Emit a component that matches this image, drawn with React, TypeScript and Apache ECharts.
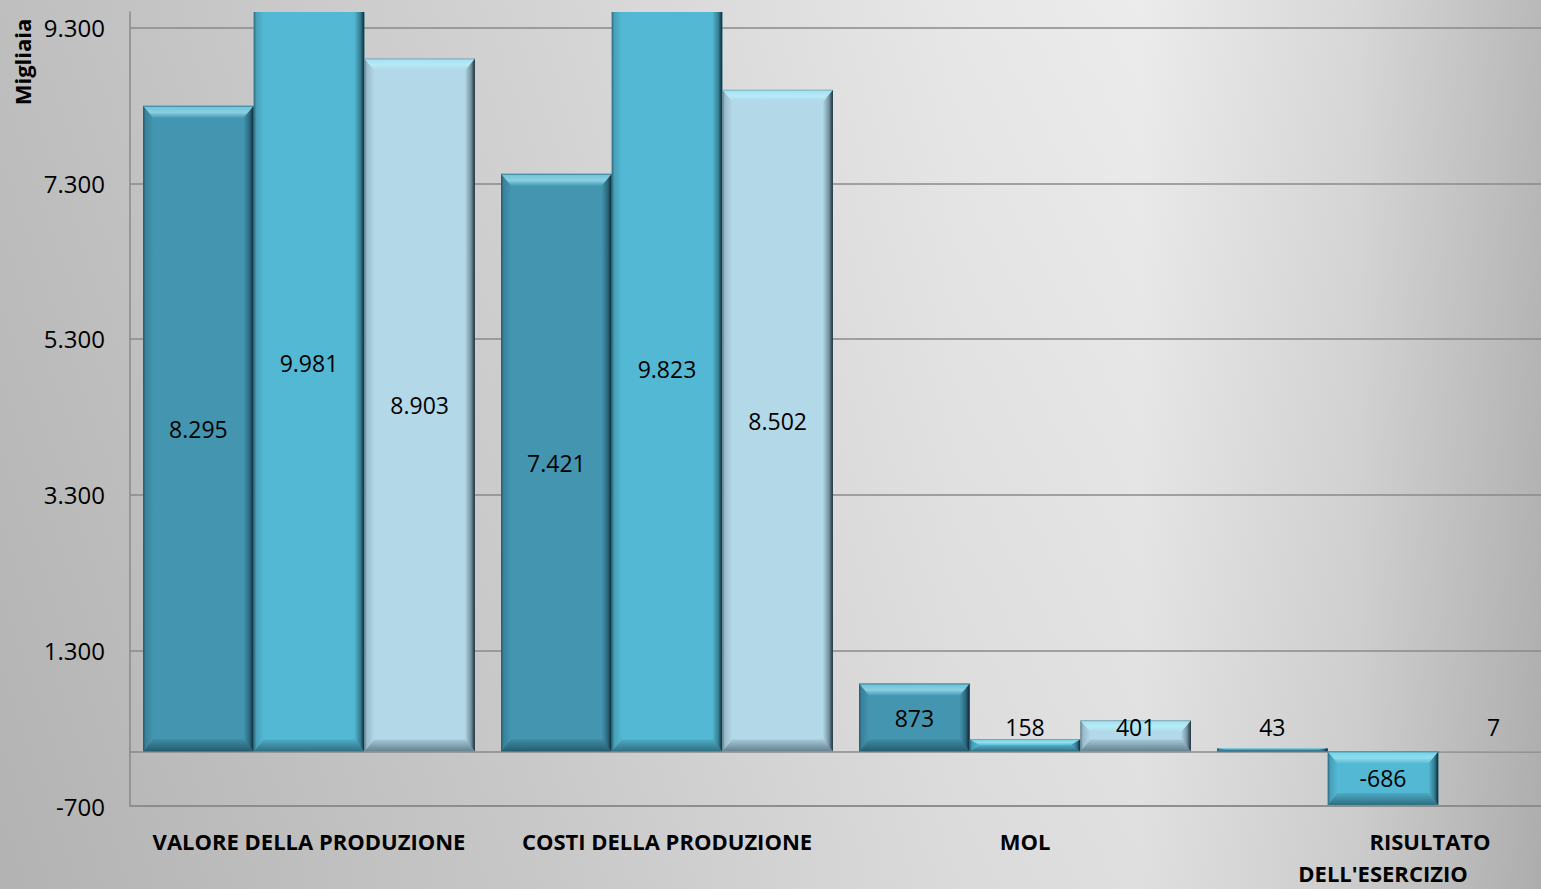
import React, { useEffect, useRef } from "react";
import * as echarts from "echarts";

const categories = [
  "VALORE DELLA PRODUZIONE",
  "COSTI DELLA PRODUZIONE",
  "MOL",
  "RISULTATO DELL'ESERCIZIO",
];
const seriesA = [8295, 7421, 873, 43];
const seriesB = [9981, 9823, 158, -686];
const seriesC = [8903, 8502, 401, 7];
const yTicks = [-700, 1300, 3300, 5300, 7300, 9300];
const yPlotTop = 9500;
const axisTitle = "Migliaia";

const seriesColors = ["#4395b0", "#53b8d3", "#b3d8e8"];
const FONT = '"Open Sans", "Noto Sans", sans-serif';
const GAP = 0.073;

function fmt(v: number): string {
  const s = String(Math.abs(Math.round(v))).replace(/\B(?=(\d{3})+(?!\d))/g, ".");
  return (v < 0 ? "-" : "") + s;
}

function lg(x1: number, y1: number, x2: number, y2: number, stops: [number, string][]) {
  return new echarts.graphic.LinearGradient(
    x1,
    y1,
    x2,
    y2,
    stops.map(([offset, color]) => ({ offset, color }))
  );
}

function makeRenderItem(si: number) {
  return (params: any, api: any) => {
    const ci = api.value(0);
    const v = api.value(1);
    const p0 = api.coord([ci, 0]);
    const cx = p0[0];
    const y0 = p0[1];
    const yv = api.coord([ci, v])[1];
    const band = api.size([1, 0])[0];
    const w = (band * (1 - GAP)) / 3;
    const x = cx - 1.5 * w + si * w;
    const gridTop = params.coordSys.y;
    const rawTop = Math.min(y0, yv);
    const clipped = rawTop < gridTop;
    const top = Math.max(rawTop, gridTop);
    const bottom = Math.max(y0, yv);
    const h = Math.max(bottom - top, 0.5);
    const bt = Math.min(12, h / 2);
    const bs = Math.min(10, w / 2);
    const tIn = clipped ? 0 : bt;
    const center = (y0 + yv) / 2;
    const ly = v >= 0 ? Math.min(center, y0 - 25) : center;
    const children: any[] = [
      {
        type: "rect",
        shape: { x, y: top, width: w, height: h },
        style: { fill: seriesColors[si] },
      },
      {
        type: "polygon",
        shape: {
          points: [
            [x, top],
            [x + bs, top + tIn],
            [x + bs, bottom - bt],
            [x, bottom],
          ],
        },
        style: {
          fill: lg(0, 0, 1, 0, [
            [0, "rgba(0,20,30,0.5)"],
            [0.25, "rgba(0,20,30,0.15)"],
            [1, "rgba(0,20,30,0)"],
          ]),
        },
      },
      {
        type: "polygon",
        shape: {
          points: [
            [x + w, top],
            [x + w, bottom],
            [x + w - bs, bottom - bt],
            [x + w - bs, top + tIn],
          ],
        },
        style: {
          fill: lg(0, 0, 1, 0, [
            [0, "rgba(0,20,30,0)"],
            [0.6, "rgba(0,20,30,0.35)"],
            [1, "rgba(0,15,25,0.85)"],
          ]),
        },
      },
      {
        type: "polygon",
        shape: {
          points: [
            [x, bottom],
            [x + w, bottom],
            [x + w - bs, bottom - bt],
            [x + bs, bottom - bt],
          ],
        },
        style: {
          fill: lg(0, 0, 0, 1, [
            [0, "rgba(0,20,30,0.08)"],
            [1, "rgba(0,20,30,0.45)"],
          ]),
        },
      },
    ];
    if (!clipped) {
      children.push({
        type: "polygon",
        shape: {
          points: [
            [x, top],
            [x + w, top],
            [x + w - bs, top + bt],
            [x + bs, top + bt],
          ],
        },
        style: {
          fill: lg(0, 0, 0, 1, [
            [0, "rgba(20,60,70,0.4)"],
            [0.12, "rgba(150,238,255,0.55)"],
            [0.55, "rgba(190,245,255,0.6)"],
            [1, "rgba(150,238,255,0.08)"],
          ]),
        },
      });
    }
    children.push({
      type: "text",
      x: x + w / 2,
      y: ly,
      z2: 10,
      style: {
        text: fmt(v),
        fill: "#000",
        fontSize: 23,
        fontFamily: FONT,
        align: "center",
        verticalAlign: "middle",
      },
    });
    return { type: "group", children };
  };
}

export default function App() {
  const ref = useRef<HTMLDivElement>(null);
  useEffect(() => {
    if (!ref.current) return;
    const chart = echarts.init(ref.current, undefined, { renderer: "svg" });
    const all = [seriesA, seriesB, seriesC];
    const gridColor = "#8a8a8a";
    const catLabel = {
      fontSize: 22,
      fontWeight: "bold",
      fontFamily: FONT,
      color: "#000",
      lineHeight: 32,
    };
    chart.setOption({
      animation: false,
      backgroundColor: "transparent",
      textStyle: { fontFamily: FONT },
      grid: { left: 130, right: 0, top: 12, bottom: 79, containLabel: false },
      xAxis: [
        {
          type: "category",
          data: categories,
          position: "bottom",
          axisLine: { show: true, onZero: false, lineStyle: { color: gridColor, width: 1.5 } },
          axisTick: { show: false },
          splitLine: { show: false },
          axisLabel: {
            ...catLabel,
            interval: 0,
            margin: 19,
            formatter: (value: string, index: number) => {
              if (index === 3) {
                const k = value.indexOf(" ");
                return "{a|" + value.slice(0, k) + "}\n{b|" + value.slice(k + 1) + "}";
              }
              return value;
            },
            rich: {
              a: { ...catLabel, padding: [0, 0, 0, 94] },
              b: { ...catLabel },
            },
          },
        },
        {
          type: "category",
          data: categories,
          position: "top",
          axisLine: { show: true, onZero: true, lineStyle: { color: gridColor, width: 1.5 } },
          axisTick: { show: false },
          axisLabel: { show: false },
          splitLine: { show: false },
        },
      ],
      yAxis: {
        type: "value",
        min: yTicks[0],
        max: yPlotTop,
        interval: yTicks[1] - yTicks[0],
        axisLine: { show: true, lineStyle: { color: gridColor, width: 1.5 } },
        axisTick: { show: false },
        splitLine: {
          show: true,
          showMaxLine: false,
          lineStyle: { color: gridColor, width: 1.5 },
        },
        axisLabel: {
          showMaxLabel: false,
          margin: 25,
          color: "#000",
          fontSize: 24,
          fontFamily: FONT,
          formatter: (v: number) => (yTicks.indexOf(v) >= 0 ? fmt(v) : ""),
        },
      },
      graphic: [
        {
          type: "text",
          x: 22,
          y: 62,
          rotation: Math.PI / 2,
          style: {
            text: axisTitle,
            fill: "#000",
            fontSize: 22,
            fontWeight: "bold",
            fontFamily: FONT,
            align: "center",
            verticalAlign: "middle",
          },
        },
      ],
      series: all.map((arr, si) => ({
        type: "custom",
        name: "S" + (si + 1),
        xAxisIndex: 0,
        yAxisIndex: 0,
        clip: false,
        encode: { x: 0, y: 1 },
        data: arr.map((v, i) => [i, v]),
        renderItem: makeRenderItem(si),
      })),
    });
    return () => chart.dispose();
  }, []);
  return (
    <div
      style={{
        position: "fixed",
        left: 0,
        top: 0,
        width: 1541,
        height: 889,
        overflow: "hidden",
        background:
          "linear-gradient(180deg, rgba(255,255,255,0.04) 0%, rgba(0,0,0,0.05) 100%), linear-gradient(90deg, #bcbcbc 0%, #d2d2d2 35%, #e6e6e6 62%, #ebebeb 74%, #d6d6d6 88%, #b6b6b6 100%)",
      }}
    >
      <div ref={ref} style={{ width: 1562, height: 889 }} />
    </div>
  );
}
